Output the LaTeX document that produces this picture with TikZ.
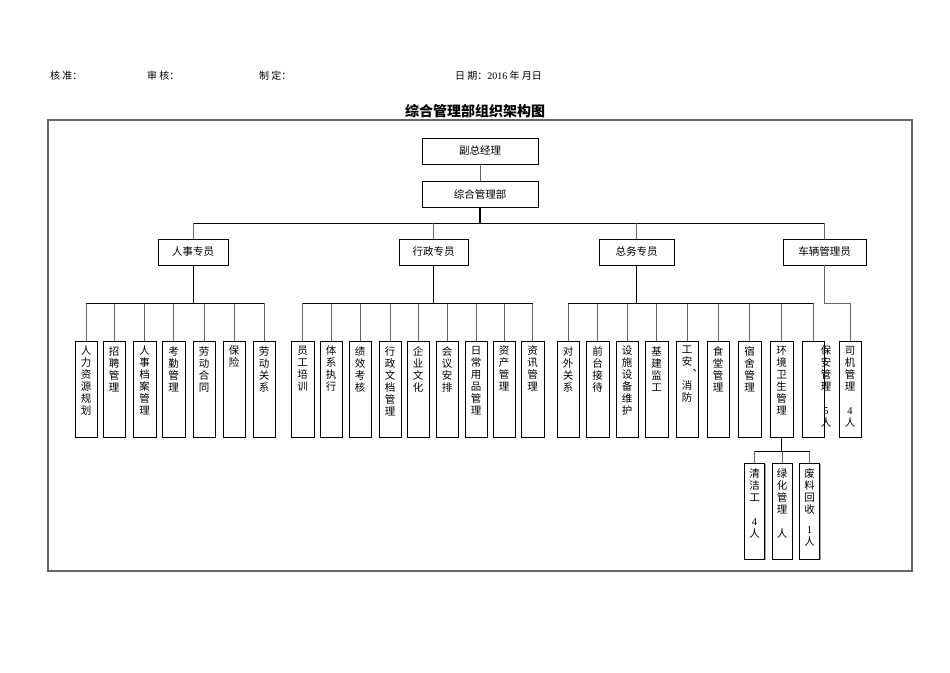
\documentclass[tikz,border=0pt]{standalone}
\usepackage{fontspec}
\setmainfont{Noto Sans CJK SC}
\newfontfamily\latinfont{Liberation Serif}
\usetikzlibrary{shadows}
% one character per line, read from the top
\newcommand{\vcol}[1]{\parbox[t][86pt][t]{12pt}{\centering\fontsize{10.5}{12}\selectfont #1}}

\begin{document}
\begin{tikzpicture}[x=1pt, y=-1pt,
  boxshadow/.style={drop shadow={shadow xshift=1.2pt, shadow yshift=-0.8pt, fill=gray!70, opacity=1}},
  topbox/.style={rectangle, draw, fill=white, boxshadow, minimum width=116, minimum height=26, inner sep=0pt, font=\fontsize{10.5}{12}\selectfont},
  midbox/.style={rectangle, draw, fill=white, boxshadow, minimum height=26, inner sep=0pt, font=\fontsize{10.5}{12}\selectfont},
  leaf/.style={rectangle, draw, fill=white, boxshadow, anchor=north, minimum width=22.5, inner xsep=0pt, inner ysep=5pt},
  bus/.style={draw=black, line width=0.9pt},
  thickbus/.style={draw=black, line width=1.8pt},
  link/.style={draw=gray!80!black, line width=0.8pt},
  head/.style={anchor=west, inner sep=0pt, font=\fontsize{10}{12}\selectfont}]
\useasboundingbox (0,0) rectangle (950,672);

% header and frame
\node (hz) [head] at (50,76) {核 准：};
\node (sh) [head] at (147,76) {审 核：};
\node (zd) [head] at (259,76) {制 定：};
\node (rq) [head] at (455,76) {日 期：{\latinfont 2016} 年 月日};
\node (title) at (475,111) {\fontsize{14}{16}\selectfont\bfseries 综合管理部组织架构图};
\draw [gray!80!black, line width=1.4pt] (48,120) rectangle (912,571);

\coordinate (bus1) at (0,223);
\coordinate (bus2) at (0,303);
\coordinate (bus3) at (0,451);

% upper levels
\node (fz) [topbox] at (480,151) {副总经理};
\node (zh) [topbox] at (480,194) {综合管理部};
\node (rs) [midbox, minimum width=70] at (193,252) {人事专员};
\node (xz) [midbox, minimum width=69] at (433.5,252) {行政专员};
\node (zw) [midbox, minimum width=75] at (636.5,252) {总务专员};
\node (cl) [midbox, minimum width=83] at (824.5,252) {车辆管理员};

\draw [link] (fz.south) -- (zh.north);
\draw [thickbus] (zh.south) -- (zh.south |- bus1);
\draw [bus] (rs.north |- bus1) -- (cl.north |- bus1);
\foreach \n in {rs,xz,zw,cl}
  \draw [link] (\n.north) -- (\n.north |- bus1);

% 人事专员
\foreach \x/\n/\t in {86/a1/{人\\力\\资\\源\\规\\划}, 114/a2/{招\\聘\\管\\理},
    144.5/a3/{人\\事\\档\\案\\管\\理}, 173.5/a4/{考\\勤\\管\\理}, 204/a5/{劳\\动\\合\\同},
    234/a6/{保\\险}, 264/a7/{劳\\动\\关\\系}} {
  \node (\n) [leaf] at (\x,341) {\vcol{\t}};
  \draw [link] (\n.north) -- (\n.north |- bus2);
}
\draw [bus] (rs.south) -- (rs.south |- bus2);
\draw [bus] (a1.north |- bus2) -- (a7.north |- bus2);

% 行政专员
\foreach \x/\n/\t in {302.5/b1/{员\\工\\培\\训}, 331/b2/{体\\系\\执\\行}, 360/b3/{绩\\效\\考\\核},
    390/b4/{行\\政\\文\\档\\管\\理}, 418/b5/{企\\业\\文\\化}, 447/b6/{会\\议\\安\\排},
    476/b7/{日\\常\\用\\品\\管\\理}, 504/b8/{资\\产\\管\\理}, 532.5/b9/{资\\讯\\管\\理}} {
  \node (\n) [leaf] at (\x,341) {\vcol{\t}};
  \draw [link] (\n.north) -- (\n.north |- bus2);
}
\draw [thickbus] (xz.south) -- (xz.south |- bus2);
\draw [bus] (b1.north |- bus2) -- (b9.north |- bus2);

% 总务专员
\foreach \x/\n/\t in {568/c1/{对\\外\\关\\系}, 597.5/c2/{前\\台\\接\\待}, 627/c3/{设\\施\\设\\备\\维\\护},
    656.5/c4/{基\\建\\监\\工},
    687/c5/{工\\安\\\smash{\raisebox{6pt}{\makebox[11pt][l]{\hspace{11pt}、}}}\\消\\防},
    718/c6/{食\\堂\\管\\理}, 749.5/c7/{宿\\舍\\管\\理}, 781.5/c8/{环\\境\\卫\\生\\管\\理}} {
  \node (\n) [leaf] at (\x,341) {\vcol{\t}};
  \draw [link] (\n.north) -- (\n.north |- bus2);
}
\node (c9) [leaf] at (813,341) {\makebox[12pt]{\hspace{26pt}\vcol{保\\安\\管\\理\\\mbox{}\\{\latinfont 5}\\人}}};
\draw [link] (c9.north) -- (c9.north |- bus2);
\draw [thickbus] (zw.south) -- (zw.south |- bus2);
\draw [bus] (c1.north |- bus2) -- (c9.north |- bus2);

% 车辆管理员
\node (sj) [leaf] at (850,341) {\vcol{司\\机\\管\\理\\\mbox{}\\{\latinfont 4}\\人}};
\draw [link] (cl.south) |- (sj.north |- bus2) -- (sj.north);

% 环境卫生管理
\foreach \x/\n/\t in {754.5/d1/{清\\洁\\工\\\mbox{}\\{\latinfont 4}\\人},
    782/d2/{绿\\化\\管\\理\\\mbox{}\\人},
    809.5/d3/{废\\料\\回\\收\\\mbox{}\\[-4pt]{\latinfont 1}\\人}} {
  \node (\n) [leaf, minimum width=20] at (\x,463) {\vcol{\t}};
  \draw [link] (\n.north) -- (\n.north |- bus3);
}
\draw [bus] (c8.south) -- (c8.south |- bus3);
\draw [bus] (d1.north |- bus3) -- (d3.north |- bus3);
\end{tikzpicture}
\end{document}
